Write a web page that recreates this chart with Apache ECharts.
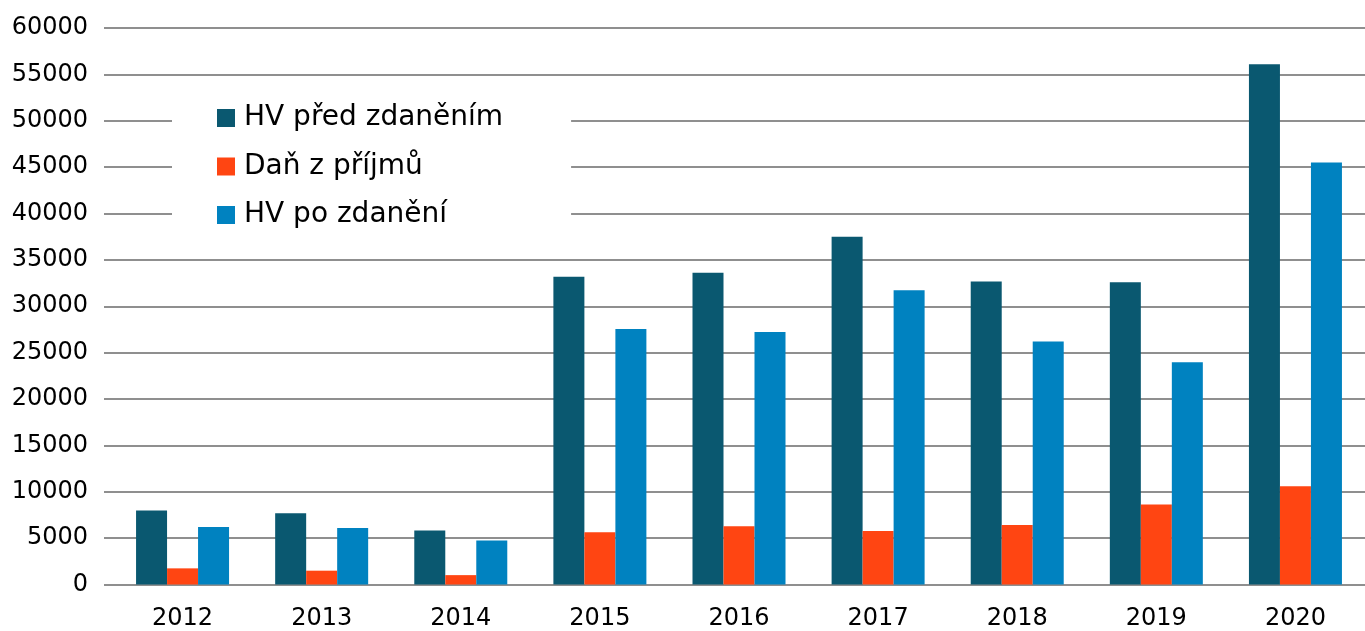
<!DOCTYPE html>
<html>
<head>
<meta charset="utf-8">
<script src="https://cdn.jsdelivr.net/npm/echarts@6/dist/echarts.min.js"></script>
<style>
  html, body { margin: 0; padding: 0; background: #fff; }
  #chart { width: 1365px; height: 631px; }
</style>
</head>
<body>
<div id="chart"></div>
<script>
  // roky
  const years = ['2012', '2013', '2014', '2015', '2016', '2017', '2018', '2019', '2020']
  // HV před zdaněním
  const hvPred = [7970, 7680, 5830, 33170, 33600, 37480, 32660, 32590, 56100]
  // Daň z příjmů
  const dan = [1740, 1490, 1010, 5620, 6270, 5760, 6410, 8620, 10600]
  // HV po zdanění
  const hvPo = [6200, 6090, 4750, 27550, 27230, 31730, 26200, 23960, 45500]

  const font = '"DejaVu Sans", sans-serif'
  const gridColor = '#8f8f8f'

  let myChart = echarts.init(document.getElementById('chart'))
  myChart.setOption({
    animation: false,
    textStyle: { fontFamily: font },
    grid: {
      left: 113,
      top: 28,
      width: 1260,
      bottom: 46.5,
      containLabel: false
    },
    legend: {
      orient: 'vertical',
      left: 172,
      top: 88,
      backgroundColor: '#fff',
      padding: [15, 68, 15, 45],
      itemWidth: 18,
      itemHeight: 18,
      itemGap: 18.5,
      icon: 'rect',
      textStyle: {
        fontFamily: font,
        fontSize: 28,
        lineHeight: 30,
        color: '#000',
        padding: [0, 0, 0, 4]
      },
      data: ['HV před zdaněním', 'Daň z příjmů', 'HV po zdanění']
    },
    xAxis: {
      type: 'category',
      data: years,
      axisTick: { show: false },
      axisLine: {
        lineStyle: { color: gridColor, width: 2 }
      },
      axisLabel: {
        margin: 22,
        color: '#000',
        fontSize: 24,
        fontFamily: font
      }
    },
    yAxis: {
      type: 'value',
      min: 0,
      max: 60000,
      interval: 5000,
      axisLine: { show: false },
      axisTick: {
        show: true,
        length: 9,
        lineStyle: { color: gridColor, width: 2 }
      },
      splitLine: {
        lineStyle: { color: gridColor, width: 2 }
      },
      axisLabel: {
        margin: 25,
        color: '#000',
        fontSize: 24,
        fontFamily: font,
        formatter: function (v) { return String(v) }
      }
    },
    series: [{
      name: 'HV před zdaněním',
      type: 'bar',
      data: hvPred,
      barGap: 0,
      barWidth: 31,
      itemStyle: { color: '#0a5870' }
    }, {
      name: 'Daň z příjmů',
      type: 'bar',
      data: dan,
      barGap: 0,
      barWidth: 31,
      itemStyle: { color: '#ff4512' }
    }, {
      name: 'HV po zdanění',
      type: 'bar',
      data: hvPo,
      barGap: 0,
      barWidth: 31,
      itemStyle: { color: '#0082c0' }
    }]
  })
</script>
</body>
</html>
